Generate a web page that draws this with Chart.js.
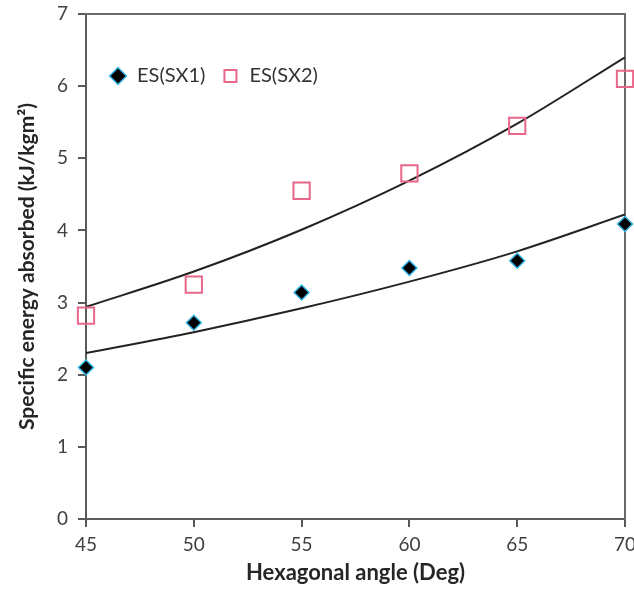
<!DOCTYPE html>
<html><head><meta charset="utf-8">
<script src="https://cdn.jsdelivr.net/npm/chart.js@4"></script>
<style>html,body{margin:0;padding:0;background:#fff;overflow:hidden}#wrap{width:634px;height:592px;position:relative}</style>
</head><body><div id="wrap"><canvas id="c" width="634" height="592"></canvas></div>
<script>
// ---- data ----
const angles = [45, 50, 55, 60, 65, 70];
const sx1 = [2.10, 2.72, 3.14, 3.48, 3.58, 4.09];
const sx2 = [2.82, 3.25, 4.55, 4.79, 5.45, 6.10];
// trend curves at each angle
const trendSx1 = [2.30, 2.59, 2.92, 3.29, 3.71, 4.22];
const trendSx2 = [2.94, 3.43, 4.01, 4.69, 5.48, 6.40];
const seriesNames = ['ES(SX1)', 'ES(SX2)'];
const xTitle = 'Hexagonal angle (Deg)';
const yTitle = 'Specific energy absorbed (kJ/kgm²)';
const xRange = [45, 70], xStep = 5;
const yRange = [0, 7], yStep = 1;

const pts = (xs, ys) => xs.map((x, i) => ({x, y: ys[i]}));
const FONT = 'Lato';
const AXIS = '#5a5a5a';

// legend drawn inside the plot area, in one row
const legendInside = {
  id: 'legendInside',
  beforeLayout(chart) {
    if (chart.legend) chart.legend.isHorizontal = () => true;
  },
  afterLayout(chart) {
    const l = chart.legend;
    if (!l) return;
    const ca = chart.chartArea;
    l.left = ca.left + 7; l.right = l.left + l.width;
    l.top = ca.top + 36; l.bottom = l.top + l.height;
  }
};

new Chart(document.getElementById('c'), {
  type: 'scatter',
  data: {
    datasets: [
      { label: seriesNames[0], data: pts(angles, sx1), pointStyle: 'rectRot', pointRadius: 7.5, pointHoverRadius: 7.5,
        backgroundColor: '#000', borderColor: '#33b5e5', borderWidth: 1.5, order: 0, clip: false },
      { label: seriesNames[1], data: pts(angles, sx2), pointStyle: 'rect', pointRadius: 11.5, pointHoverRadius: 11.5,
        backgroundColor: 'rgba(0,0,0,0)', borderColor: '#e8678a', borderWidth: 2, order: 0, clip: false },
      { label: 'trend1', type: 'line', data: pts(angles, trendSx1), showLine: true, pointRadius: 0,
        borderColor: '#222', borderWidth: 2, tension: 0.4, cubicInterpolationMode: 'monotone', fill: false, order: 1 },
      { label: 'trend2', type: 'line', data: pts(angles, trendSx2), showLine: true, pointRadius: 0,
        borderColor: '#222', borderWidth: 2, tension: 0.4, cubicInterpolationMode: 'monotone', fill: false, order: 1 }
    ]
  },
  options: {
    responsive: false,
    animation: false,
    events: [],
    layout: { autoPadding: false, padding: { top: 14, right: 9, bottom: 0, left: 0 } },
    plugins: {
      tooltip: { enabled: false },
      legend: {
        position: 'chartArea',
        align: 'start',
        labels: {
          usePointStyle: true,
          boxWidth: 18, boxHeight: 12,
          padding: 16,
          color: '#333',
          font: { family: FONT, size: 20 },
          filter: (item) => item.datasetIndex < 2
        }
      }
    },
    scales: {
      x: {
        type: 'linear', position: 'bottom', min: xRange[0], max: xRange[1],
        ticks: { stepSize: xStep, color: '#404040', font: { family: FONT, size: 19 }, padding: 6, maxRotation: 0 },
        grid: { drawOnChartArea: false, drawTicks: true, tickLength: 8, color: AXIS, lineWidth: 2 },
        border: { display: true, color: AXIS, width: 2 },
        title: { display: true, text: xTitle, color: '#262626', font: { family: FONT, size: 22, weight: 'bold' }, padding: { top: 2, bottom: 6 } },
        afterFit: (s) => { s.height = 73; s.paddingRight = 0; s.paddingLeft = 0; }
      },
      y: {
        type: 'linear', position: 'left', min: yRange[0], max: yRange[1],
        ticks: { stepSize: yStep, color: '#404040', font: { family: FONT, size: 19 }, padding: 10 },
        grid: { drawOnChartArea: false, drawTicks: true, tickLength: 8, color: AXIS, lineWidth: 2 },
        border: { display: true, color: AXIS, width: 2 },
        title: { display: true, text: yTitle, color: '#262626', font: { family: FONT, size: 21, weight: 'bold' }, padding: { top: 15, bottom: 0 } },
        afterFit: (s) => { s.width = 86; s.paddingTop = 0; s.paddingBottom = 0; }
      },
      xTop: {
        type: 'linear', position: 'top', min: xRange[0], max: xRange[1],
        ticks: { display: false },
        grid: { drawOnChartArea: false, drawTicks: false },
        border: { display: true, color: '#6a6a6a', width: 2 },
        afterFit: (s) => { s.height = 0; s.paddingLeft = 0; s.paddingRight = 0; }
      },
      yRight: {
        type: 'linear', position: 'right', min: yRange[0], max: yRange[1],
        ticks: { display: false },
        grid: { drawOnChartArea: false, drawTicks: false },
        border: { display: true, color: '#6a6a6a', width: 2 },
        afterFit: (s) => { s.width = 0; s.paddingTop = 0; s.paddingBottom = 0; }
      }
    }
  },
  plugins: [legendInside]
});
</script>
</body></html>
